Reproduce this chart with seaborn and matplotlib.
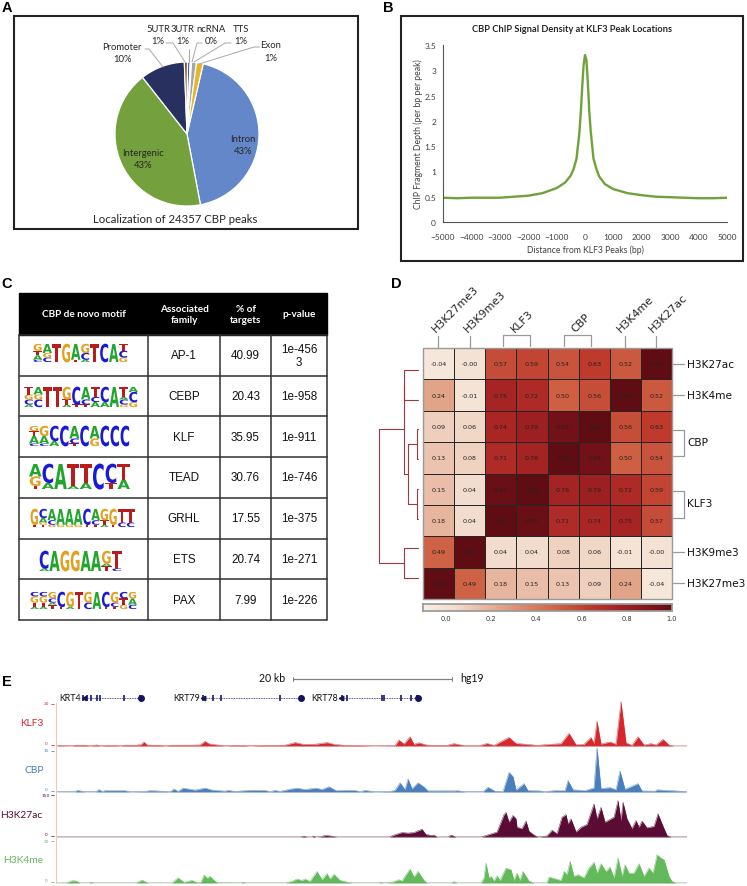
import numpy as np
import pandas as pd
import matplotlib
matplotlib.use("Agg")
import matplotlib.pyplot as plt
import matplotlib.patheffects as pe
from matplotlib.colors import LinearSegmentedColormap
from matplotlib.patches import Rectangle
from matplotlib.transforms import Affine2D
import seaborn as sns

W, H = 747, 887

# Panel A
pie_labels = ["Intron", "Intergenic", "Promoter", "5UTR", "3UTR", "ncRNA", "TTS", "Exon"]
pie_values = [43.4, 42.4, 10.0, 0.7, 0.6, 0.3, 1.1, 1.5]
pie_colors = ["#6487c9", "#74a03e", "#27305f", "#7a3b12", "#2f55c0", "#f2bfa6", "#a5a5a5", "#e8b428"]
pie_text = ["43%", "43%", "10%", "1%", "1%", "0%", "1%", "1%"]

# Panel B
dist_bp = [-5000, -4500, -4000, -3000, -2500, -2000, -1500, -1000, -700, -500, -400, -300, -200, -150, -100, -50, 0,
           50, 100, 150, 200, 300, 400, 500, 700, 1000, 1500, 2000, 2500, 3000, 3500, 4000, 4500, 5000]
chip_depth = [0.48, 0.47, 0.48, 0.48, 0.50, 0.52, 0.57, 0.67, 0.78, 0.92, 1.05, 1.25, 1.75, 2.15, 2.65, 3.10, 3.30,
              3.20, 2.75, 2.20, 1.80, 1.25, 1.05, 0.90, 0.75, 0.65, 0.57, 0.53, 0.50, 0.49, 0.48, 0.47, 0.47, 0.48]

# Panel C
table_head = ["CBP de novo motif", "Associated\nfamily", "% of\ntargets", "p-value"]
motif_family = ["AP-1", "CEBP", "KLF", "TEAD", "GRHL", "ETS", "PAX"]
motif_targets = ["40.99", "20.43", "35.95", "30.76", "17.55", "20.74", "7.99"]
motif_pvalue = ["1e-456\n3", "1e-958", "1e-911", "1e-746", "1e-375", "1e-271", "1e-226"]
# each column goes bottom to top, a letter repeated n times stands for n/8 of the logo height
logo_ap1 = ["CAATTGGG", "CCGGAAAA", "TTTTTTTT", "GGGGGGGG", "TAAAAAAA", "ACCCGGGG", "TTTTTTTT", "CCCCCCCC", "AAAAAAAA", "GGCCCTTT"]
logo_cebp = ["ACCGGTTT", "CCCGGAAA", "TTTTTTTT", "TTTTTTTT", "ATTGGGGG", "TCCCCCCC", "TCCAAAAA", "AACCTTTT", "AACCCCCC", "AAAAAAAA", "GCCATTTT", "GGCAACCC"]
logo_klf = ["CAAATTGG", "CAAAGGGG", "AACCCCCC", "CCCCCCCC", "TCCAAAAA", "CCCCCCCC", "GGGAAAAA", "CCCCCCCC", "CCCCCCCC", "CCCCCCCC"]
logo_tead = ["TGGGAAAA", "AACCCCCC", "AAAAAAAA", "ATTTTTTT", "AATTTTTT", "CCCCCCCC", "TTCCCCCC", "AAATTTTT"]
logo_grhl = ["TGGGGGGG", "TGAACCCC", "GCCAAAAA", "GAAAAAAA", "GAAAAAAA", "GAAAAAAA", "TCCCCCCC", "TCCAAAAA", "ATTGGGGG", "TGGGGGGG", "CCTTTTTT", "CCTTTTTT"]
logo_ets = ["ACCCCCCC", "AAAAAAAA", "GGGGGGGG", "GGGGGGGG", "AAAAAAAA", "AAAAAAAA", "TTAGGGGG", "CTTTTTTT"]
logo_pax = ["ATTGGGCC", "ATTGGGCC", "TTACCGGG", "TCCCCCCC", "AGGGGGGG", "TTTTTTTT", "CCCGGGGG", "AAAAAAAA", "TCCCCCCC", "TCCGGGGG", "GGTTTCCC", "CCAAAGGG"]
logos = [logo_ap1, logo_cebp, logo_klf, logo_tead, logo_grhl, logo_ets, logo_pax]
logo_boxes = [(33, 128, 363, 18), (24, 138, 408, 20), (29, 130, 447, 20), (29, 130, 490, 25),
              (30, 135, 528, 18), (39, 122, 572, 20), (30, 137, 610, 17)]
base_colors = {"A": "#22a52c", "C": "#1a1ad6", "G": "#e2a021", "T": "#b81c1c"}
base_adv = {"A": 0.774, "C": 0.734, "G": 0.821, "T": 0.682}

# Panel D
row_names = ["H3K27ac", "H3K4me", "CBP", "CBP ", "KLF3", "KLF3 ", "H3K9me3", "H3K27me3"]
col_names = ["H3K27me3", "H3K9me3", "KLF3", "KLF3 ", "CBP", "CBP ", "H3K4me", "H3K27ac"]
corr_rows = [
    [-0.04, -0.004, 0.57, 0.59, 0.54, 0.63, 0.52, 1.00],
    [0.24, -0.01, 0.75, 0.72, 0.50, 0.56, 1.00, 0.52],
    [0.09, 0.06, 0.74, 0.79, 0.95, 1.00, 0.56, 0.63],
    [0.13, 0.08, 0.71, 0.76, 1.00, 0.95, 0.50, 0.54],
    [0.15, 0.04, 0.97, 1.00, 0.76, 0.79, 0.72, 0.59],
    [0.18, 0.04, 1.00, 0.97, 0.71, 0.74, 0.75, 0.57],
    [0.49, 1.00, 0.04, 0.04, 0.08, 0.06, -0.01, -0.004],
    [1.00, 0.49, 0.18, 0.15, 0.13, 0.09, 0.24, -0.04],
]
heat_min, heat_max = -0.1, 1.0
heat_stops = [-0.1, 0.04, 0.24, 0.49, 0.63, 0.75, 0.95, 1.0]
heat_colors = ["#f9efe5", "#f2dccd", "#e2a488", "#cf6245", "#bd3a2d", "#a72424", "#741118", "#600c13"]
# dendrogram links: row of each end and merge distance
dendro_links = [(0, 1, 0.36), (2, 3, 0.03), (4, 5, 0.03), (2.5, 4.5, 0.26), (6, 7, 0.36), (0.5, 3.5, 0.37), (2, 6.5, 1.0)]

# Panel E
klf3_pos = [57, 60, 63, 72, 76, 85, 90, 97, 100, 107, 115, 120, 125, 136, 141, 144, 147, 152, 160, 165, 172, 190, 200, 205, 209, 217,
            225, 233, 243, 250, 262, 277, 285, 295, 303, 315, 327, 335, 345, 355, 374, 395, 399, 404, 410, 414, 419, 426, 431, 447, 454,
            464, 480, 487, 494, 509, 516, 524, 537, 551, 561, 569, 576, 584, 591, 594, 597, 601, 610, 616, 621, 626, 632, 638, 644, 651,
            656, 663, 669, 674, 687]
klf3_val = [0.1, 0.3, 0.2, 0.1, 0.4, 0.4, 0.1, 0.5, 0.1, 0.3, 0.3, 0.1, 0.4, 0.4, 0.6, 1.9, 0.5, 0.4, 0.4, 0.1, 0.4, 0.4, 0.5, 2.2, 1.0, 0.5,
            0.1, 0.3, 0.3, 0.1, 0.3, 0.3, 0.4, 1.6, 0.8, 0.8, 1.6, 0.7, 0.3, 0.3, 0.1, 0.2, 2.8, 0.9, 4.3, 0.8, 1.5, 0.5, 0.3, 0.3, 1.1,
            0.2, 0.2, 1.2, 0.3, 4.0, 1.2, 0.9, 0.3, 0.8, 1.1, 5.9, 0.6, 0.8, 4.0, 1.2, 11.6, 0.9, 1.9, 0.8, 20.6, 1.5, 0.3, 4.3, 0.5, 1.1,
            0.5, 3.1, 0.5, 0, 0]
cbp_pos = [57, 75, 77, 85, 96, 99, 102, 105, 125, 130, 145, 150, 157, 170, 174, 178, 183, 195, 205, 212, 216, 225, 228, 235, 250, 265, 270, 275,
           280, 290, 297, 305, 316, 322, 329, 336, 345, 355, 360, 365, 374, 390, 395, 400, 405, 408, 412, 418, 424, 428, 435, 455, 457, 465, 483, 488,
           495, 503, 509, 513, 516, 524, 528, 540, 544, 555, 565, 568, 573, 585, 594, 597, 601, 610, 616, 620, 625, 638, 642, 655, 657, 670, 685, 687]
cbp_val = [0.1, 0.1, 0.6, 0.1, 0.1, 0.9, 0.2, 0.5, 0.5, 0.1, 0.2, 0.5, 0.4, 0.1, 1.1, 0.2, 1.4, 0.7, 1.4, 0.7, 0.6, 0.3, 0.6, 0.2, 0.6, 0.6, 0.1, 0.6,
           0.2, 1.0, 1.4, 0.9, 1.4, 0.9, 1.9, 0.5, 0.6, 0.6, 0.1, 0.6, 0.1, 0.2, 0.6, 3.3, 0.9, 4.7, 1.2, 3.3, 1.8, 0.4, 0.4, 0.4, 0.5, 0.1, 0.1, 1.7,
           0.3, 0.2, 7.0, 5.5, 0.7, 3.0, 0.5, 0.4, 0.1, 0.5, 0.5, 4.1, 0.8, 0.5, 1.5, 15.8, 1.2, 1.6, 0.8, 7.5, 1.0, 3.0, 0.4, 0.3, 0.8, 0.5, 0.2, 0]
ac_pos = [57, 300, 304, 307, 312, 313, 316, 320, 326, 332, 337, 389, 394, 402, 408, 414, 422, 426, 431, 434, 437, 448, 451, 456, 481, 491, 497, 504,
          506, 509, 513, 516, 517, 522, 526, 529, 534, 538, 547, 552, 557, 562, 566, 568, 571, 576, 581, 587, 594, 597, 601, 605, 607, 614, 618, 621, 623,
          627, 632, 636, 639, 642, 647, 654, 658, 662, 667, 671, 687]
ac_val = [0, 0, 3.5, 0, 0, 3.5, 0, 1, 6, 3, 0, 0, 7, 16, 14, 16, 28, 9, 6, 7, 0, 0, 7, 0, 0, 11, 18, 80,
          88, 53, 77, 65, 35, 30, 57, 21, 7, 0, 4, 24, 12, 71, 80, 47, 65, 18, 35, 45, 118, 65, 106, 53, 57, 71, 130, 59, 124,
          65, 30, 59, 35, 57, 33, 38, 83, 47, 6, 0, 0]
me_pos = [57, 65, 68, 72, 76, 80, 88, 91, 94, 136, 142, 148, 172, 178, 184, 192, 197, 201, 204, 207, 210, 214, 217, 240, 243, 246, 285, 292, 297, 302, 305,
          310, 317, 322, 327, 330, 334, 340, 347, 353, 378, 381, 384, 392, 399, 402, 406, 410, 414, 418, 424, 427, 451, 454, 457, 481, 484, 486, 489, 491, 494,
          497, 500, 506, 511, 514, 517, 520, 523, 529, 534, 547, 549, 556, 561, 564, 567, 570, 574, 578, 584, 589, 594, 597, 601, 606, 610, 614, 618, 622, 625,
          629, 634, 639, 644, 649, 653, 657, 661, 664, 669, 672, 676, 687]
me_val = [0, 0, 0.5, 1.7, 1.5, 0, 0, 0.5, 0, 0, 2.1, 0, 0, 3.8, 0.5, 1.9, 0.2, 0.5, 5.7, 3.5, 4.8, 2, 0.2, 0, 0.5, 0, 0, 1.2, 2.9, 1.9, 2.9,
          1.2, 8.3, 2.4, 6.7, 2.9, 6.2, 1.9, 0.7, 0, 0, 0.5, 0, 0.5, 2.4, 1.4, 6, 10, 4.3, 8.3, 1.9, 0, 0, 1, 0, 0, 3.6, 14.3, 3.6, 4.8, 1.4,
          5.2, 1.9, 10.7, 9.5, 1.9, 7.1, 1.9, 8.3, 1.4, 0, 0, 4.3, 2.9, 1.9, 8.3, 6, 15.5, 4.8, 6, 3.6, 10.7, 14.8, 7.1, 13.8, 8.3, 11.4, 3.6, 17.9, 4.8, 13,
          7.1, 7.1, 13.8, 4.8, 10.7, 7.1, 20.2, 17.9, 16.7, 4.8, 1.2, 0, 0]
track_names = ["KLF3", "CBP", "H3K27ac", "H3K4me"]
track_colors = ["#d8262c", "#4a7fbf", "#5a0c35", "#62ba5a"]
track_pos = [klf3_pos, cbp_pos, ac_pos, me_pos]
track_val = [klf3_val, cbp_val, ac_val, me_val]
track_max = [20, 15, 150, 30]
track_boxes = [(704, 747), (751, 793), (796, 838), (842, 884)]
track_label_xy = [(32, 724), (34, 771), (21.5, 816), (23, 861)]
gene_names = ["KRT4", "KRT79", "KRT78"]
gene_spans = [(83, 142), (202, 302), (340, 419)]
gene_exons = [[83, 87, 91, 97, 100, 124, 140], [203, 213, 221, 280, 301], [342, 347, 382, 384, 401, 411, 417]]


class LetterStretch(pe.AbstractPathEffect):
    # stretches a text glyph around its origin so logo letters fill their cell
    def __init__(self, sx, sy):
        super().__init__()
        self.sx = sx
        self.sy = sy

    def draw_path(self, renderer, gc, tpath, affine, rgbFace=None):
        renderer.draw_path(gc, tpath, Affine2D().scale(self.sx, self.sy) + affine, rgbFace)


def px_axes(x0, y0, x1, y1, **kw):
    # axes from a box in picture pixels
    return fig.add_axes([x0 / W, 1 - y1 / H, (x1 - x0) / W, (y1 - y0) / H], **kw)


sns.set_theme(style="white")
plt.rcParams["font.family"] = ["Lato", "DejaVu Sans"]
fig = plt.figure(figsize=(W / 100, H / 100), dpi=100, facecolor="white")

# overlay in pixel units for frames, labels and the table
ov = px_axes(0, 0, W, H)
ov.set_xlim(0, W)
ov.set_ylim(H, 0)
ov.axis("off")
ov.patch.set_alpha(0)
ov.set_zorder(10)

for lab, x, y in [("A", 7, 8), ("B", 388, 8), ("C", 7, 284), ("D", 396, 284), ("E", 7, 682)]:
    ov.text(x, y, lab, fontsize=10.5, fontweight="bold", color="black", ha="center", va="center", family="Liberation Sans")

# A: pie
ov.add_patch(Rectangle((14, 17), 344, 213, fill=False, ec="#222222", lw=1.5))
ax_pie = px_axes(115, 63, 259, 207)
ax_pie.pie(pie_values, colors=pie_colors, startangle=77, counterclock=False,
           wedgeprops={"edgecolor": "white", "linewidth": 0.9})
ax_pie.set_xlim(-1, 1)
ax_pie.set_ylim(-1, 1)

pie_xy = [(243, 139), (143, 153), (122, 47), (158, 29), (183, 29), (211, 29), (241, 29), (271, 46)]
for name, pct, (x, y) in zip(pie_labels, pie_text, pie_xy):
    ov.text(x, y, name, fontsize=6.8, color="#262626", ha="center", va="center")
    ov.text(x, y + 12.5, pct, fontsize=6.8, color="#262626", ha="center", va="center")
for xs, ys in [((145, 149, 163), (50, 50, 68)), ((166, 173, 185), (44, 44, 63)), ((188.5, 188.5), (50, 63)),
               ((202, 197, 192), (44, 44, 63)), ((231, 225, 194), (44, 44, 63)), ((260, 254, 199), (48, 48, 65))]:
    ov.plot(xs, ys, color="#a8a8a8", lw=0.7)
ov.text(175, 220, "Localization of 24357 CBP peaks", fontsize=8.2, color="#262626", ha="center", va="center")

# B: density line
ov.add_patch(Rectangle((401, 17), 342, 245, fill=False, ec="#222222", lw=1.5))
ax_line = px_axes(443, 46, 727, 223)
line_df = pd.DataFrame({"dist": dist_bp, "depth": chip_depth})
sns.lineplot(data=line_df, x="dist", y="depth", color="#70a23c", lw=1.7, ax=ax_line)
ax_line.set_xlim(-5000, 5000)
ax_line.set_ylim(0, 3.5)
ax_line.set_xticks(np.arange(-5000, 5001, 1000))
ax_line.set_yticks([0, 0.5, 1, 1.5, 2, 2.5, 3, 3.5])
ax_line.set_yticklabels(["0", "0.5", "1", "1.5", "2", "2.5", "3", "3.5"])
ax_line.tick_params(labelsize=6, length=0, colors="#404040", pad=5)
ax_line.tick_params(axis="x", pad=8)
ax_line.set_xlabel("Distance from KLF3 Peaks (bp)", fontsize=6.2, color="#404040", labelpad=3)
ax_line.set_ylabel("ChIP Fragment Depth (per bp per peak)", fontsize=6.2, color="#404040", labelpad=1)
sns.despine(ax=ax_line)
for side in ["left", "bottom"]:
    ax_line.spines[side].set_color("#555555")
    ax_line.spines[side].set_linewidth(0.8)
ov.text(572, 30, "CBP ChIP Signal Density at KLF3 Peak Locations", fontsize=6.7, fontweight="bold",
        color="#262626", ha="center", va="center")

# C: table with logos
col_edges = [19, 148, 220, 271, 327]
row_top, head_bottom, row_h = 294, 336, 40.7
ov.add_patch(Rectangle((19, row_top), 308, head_bottom - row_top, fc="black", ec="black"))
for i, head in enumerate(table_head):
    ov.text((col_edges[i] + col_edges[i + 1]) / 2, (row_top + head_bottom) / 2, head, fontsize=7.2, fontweight="bold",
            color="white", ha="center", va="center", linespacing=1.25)
for i in range(7):
    yc = head_bottom + row_h * (i + 0.5)
    for j, txt in enumerate([motif_family[i], motif_targets[i], motif_pvalue[i]]):
        ov.text((col_edges[j + 1] + col_edges[j + 2]) / 2, yc, txt, fontsize=8.4, color="#111111", ha="center", va="center",
                family="Liberation Sans", linespacing=1.05)
for x in col_edges:
    ov.plot([x, x], [head_bottom, head_bottom + 7 * row_h], color="#303030", lw=1.1)
for i in range(8):
    y = head_bottom + row_h * i
    ov.plot([19, 327], [y, y], color="#303030", lw=1.1)

logo_pt = 2.5
em_px = logo_pt * 100 / 72
for logo, (x0, x1, base, height) in zip(logos, logo_boxes):
    col_w = (x1 - x0) / len(logo)
    for c, column in enumerate(logo):
        y = base
        for letter in sorted(set(column), key=column.index):
            part = height * column.count(letter) / 8
            ov.text(x0 + c * col_w, y, letter, fontsize=logo_pt, fontweight="bold", family="DejaVu Sans", color=base_colors[letter],
                    ha="left", va="baseline",
                    path_effects=[LetterStretch(col_w / (base_adv[letter] * em_px), part / (0.729 * em_px))])
            y -= part

# D: heatmap
stop_frac = [(s - heat_min) / (heat_max - heat_min) for s in heat_stops]
heat_cmap = LinearSegmentedColormap.from_list("corr", list(zip(stop_frac, heat_colors)))
corr_df = pd.DataFrame(corr_rows, index=row_names, columns=col_names)
ax_heat = px_axes(423, 349, 672, 600)
ax_cbar = px_axes(423, 605, 672, 612)
sns.heatmap(corr_df, annot=True, fmt=".2f", cmap=heat_cmap, vmin=heat_min, vmax=heat_max, linewidths=0.7, linecolor="#252525",
            annot_kws={"fontsize": 4.6, "color": "#222222", "family": "DejaVu Sans"}, ax=ax_heat, cbar_ax=ax_cbar,
            cbar_kws={"orientation": "horizontal", "ticks": [0, 0.2, 0.4, 0.6, 0.8, 1.0]},
            xticklabels=False, yticklabels=False)
ax_heat.set_xlabel("")
ax_heat.set_ylabel("")
ax_cbar.tick_params(labelsize=4.8, length=0, pad=3, colors="#333333")
for lab in ax_cbar.get_xticklabels():
    lab.set_family("DejaVu Sans")
for sp in ax_cbar.spines.values():
    sp.set_visible(True)
    sp.set_color("#999999")
ov.add_patch(Rectangle((423, 349), 249, 251, fill=False, ec="#999999", lw=1))

ax_den = px_axes(379, 371, 418, 371 + 7 * 29.7)
ax_den.set_xlim(1, 0)
ax_den.set_ylim(7, 0)
ax_den.axis("off")
ax_den.patch.set_alpha(0)
heights = {0: 0, 1: 0, 2: 0, 3: 0, 4: 0, 5: 0, 6: 0, 7: 0, 0.5: 0.36, 2.5: 0.03, 4.5: 0.03, 3.5: 0.26, 6.5: 0.36}
for a, b, d in dendro_links:
    da = heights[a] if a != 2 or d != 1.0 else 0.37
    ax_den.plot([da, d, d, heights[b]], [a, a, b, b], color="#9c3a42", lw=0.8, clip_on=False)

for x, name in [(437, "H3K27me3"), (469, "H3K9me3"), (516, "KLF3"), (577, "CBP"), (622, "H3K4me"), (654, "H3K27ac")]:
    ov.text(x, 334, name, fontsize=7.9, rotation=45, family="DejaVu Sans", color="#222222", ha="left", va="bottom",
            rotation_mode="anchor")
gray_line = {"color": "#9a9a9a", "lw": 0.9}
for x in [438, 470, 625, 656]:
    ov.plot([x, x], [337, 348], **gray_line)
for x0, x1 in [(503, 530), (564, 591)]:
    ov.plot([x0, x0, x1, x1], [347, 336, 336, 347], **gray_line)
for y, name in [(365, "H3K27ac"), (396, "H3K4me"), (553, "H3K9me3"), (584, "H3K27me3")]:
    ov.plot([673, 684], [y, y], **gray_line)
    ov.text(687, y, name, fontsize=7.6, family="DejaVu Sans", color="#111111", ha="left", va="center")
for y0, y1, name in [(431, 457, "CBP"), (492, 519, "KLF3")]:
    ov.plot([673, 684, 684, 673], [y0, y0, y1, y1], **gray_line)
    ov.text(687, (y0 + y1) / 2 - 1, name, fontsize=7.6, family="DejaVu Sans", color="#111111", ha="left", va="center")

# E: browser tracks
ov.plot([293, 452], [680, 680], color="#808080", lw=0.9)
for x in [293, 452]:
    ov.plot([x, x], [678, 682], color="#808080", lw=0.7)
ov.text(272, 679, "20 kb", fontsize=7.6, color="#111111", ha="center", va="center")
ov.text(472, 679, "hg19", fontsize=7.6, color="#111111", ha="center", va="center")

for name, (g0, g1), exons in zip(gene_names, gene_spans, gene_exons):
    ov.plot([g0, g1], [699, 699], color="#1b1a70", lw=0.6, ls=(0, (1, 1)))
    ov.text(g0 - 2, 699, name, fontsize=6.4, color="#111111", ha="right", va="center")
    ov.plot(exons, [699] * len(exons), ls="none", marker="|", ms=5, mew=1.2, color="#1b1a70")
    ov.plot([g1 - 1.5], [699], ls="none", marker="o", ms=4, color="#14145f")
    ov.plot([g0 + 1], [699], ls="none", marker="<", ms=3.2, color="#14145f")

ov.plot([55.5, 55.5], [704, 884], color="#f2c4c0", lw=0.8)
for name, color, pos, val, top, (y0, y1), (lx, ly) in zip(track_names, track_colors, track_pos, track_val,
                                                         track_max, track_boxes, track_label_xy):
    ax_t = px_axes(57, y0, 687, y1)
    track_df = pd.DataFrame({"pos": pos, "signal": val})
    sns.lineplot(data=track_df, x="pos", y="signal", color=color, lw=0.3, ax=ax_t, clip_on=False)
    ax_t.fill_between(pos, 0, val, color=color, lw=0, clip_on=False)
    ax_t.axhline(0, color="#7c7c7c", lw=1, zorder=3)
    ax_t.set_xlim(57, 687)
    ax_t.set_ylim(0, top)
    ax_t.axis("off")
    ax_t.patch.set_alpha(0)
    ov.text(lx, ly, name, fontsize=7.4, color=color, ha="center", va="center")
    ov.text(46, y0 + 0.5, str(top), fontsize=3.2, color=color, ha="center", va="center", family="DejaVu Sans")
    ov.text(46, y1 - 2.5, "0", fontsize=3.2, color=color, ha="center", va="center", family="DejaVu Sans")
    ov.plot([51, 54], [y0 + 0.5, y0 + 0.5], color=color, lw=0.5)
    ov.plot([51, 54], [y1 - 1, y1 - 1], color=color, lw=0.5)

fig.savefig("out.png", dpi=100)
